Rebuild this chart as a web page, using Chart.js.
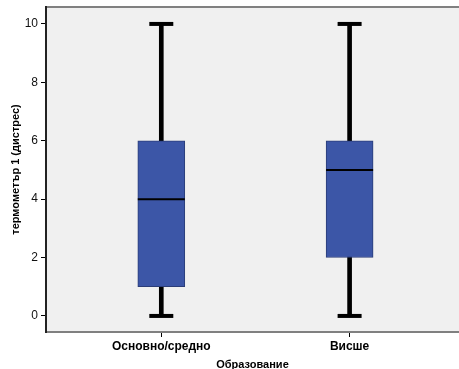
<!DOCTYPE html>
<html>
<head>
<meta charset="utf-8">
<script src="https://cdn.jsdelivr.net/npm/chart.js@4/dist/chart.umd.min.js"></script>
<style>
  html, body { margin: 0; padding: 0; background: #fff; }
  #wrap { width: 459px; height: 369px; }
</style>
</head>
<body>
<div id="wrap"><canvas id="box" width="459" height="369"></canvas></div>
<script>
// five-number summaries per education group
const categories = ['Основно/средно', 'Висше'];
const minValues = [0, 0];
const q1Values = [1, 2];
const medianValues = [4, 5];
const q3Values = [6, 6];
const maxValues = [10, 10];
const yTicks = [0, 2, 4, 6, 8, 10];

const xPos = categories.map((_, i) => i + 1);
const FONT = 'Arial, "Liberation Sans", sans-serif';

// fixed axis sizes, no extra label padding
function fixBox(s, size) {
  if (s.isHorizontal()) s.height = size; else s.width = size;
  s.paddingLeft = s.paddingRight = s.paddingTop = s.paddingBottom = 0;
}

// grey panel behind the boxes plus the top frame line
const panel = {
  id: 'panel',
  beforeDraw(chart) {
    const { ctx, chartArea: a } = chart;
    ctx.save();
    ctx.fillStyle = '#f0f0f0';
    ctx.fillRect(a.left, a.top, a.right - a.left, a.bottom - a.top);
    ctx.strokeStyle = '#808080';
    ctx.lineWidth = 2;
    ctx.beginPath();
    ctx.moveTo(a.left, a.top);
    ctx.lineTo(a.right, a.top);
    ctx.stroke();
    ctx.restore();
  }
};

new Chart(document.getElementById('box'), {
  type: 'bar',
  data: {
    datasets: [
      {
        // median line
        type: 'line',
        order: 0,
        showLine: false,
        data: xPos.map((x, i) => ({ x, y: medianValues[i] })),
        pointStyle: 'line',
        pointRadius: 23.5,
        pointBorderWidth: 2,
        borderColor: '#000',
        backgroundColor: '#000'
      },
      {
        // interquartile box
        order: 1,
        grouped: false,
        data: xPos.map((x, i) => ({ x, y: [q1Values[i], q3Values[i]] })),
        barThickness: 47,
        backgroundColor: '#3c56a7',
        borderColor: '#2b3d78',
        borderWidth: 1,
        borderSkipped: false
      },
      {
        // whisker caps
        type: 'line',
        order: 2,
        showLine: false,
        data: xPos.flatMap((x, i) => [{ x, y: minValues[i] }, { x, y: maxValues[i] }]),
        pointStyle: 'line',
        pointRadius: 12,
        pointBorderWidth: 4,
        borderColor: '#000',
        backgroundColor: '#000'
      },
      {
        // whisker stems
        order: 3,
        grouped: false,
        data: xPos.map((x, i) => ({ x, y: [minValues[i], maxValues[i]] })),
        barThickness: 4,
        backgroundColor: '#000',
        borderWidth: 0
      }
    ]
  },
  options: {
    responsive: false,
    animation: false,
    layout: { autoPadding: false, padding: { top: 7, left: 0, right: 0, bottom: 0 } },
    plugins: { legend: { display: false }, tooltip: { enabled: false } },
    scales: {
      x: {
        type: 'linear',
        min: 0.3877,
        max: 2.581,
        offset: false,
        grid: { display: true, offset: false, drawOnChartArea: false, tickLength: 5, color: '#000', lineWidth: 1 },
        border: { color: '#808080', width: 2 },
        afterBuildTicks: (s) => { s.ticks = xPos.map(v => ({ value: v })); },
        afterFit: (s) => fixBox(s, 37),
        ticks: {
          padding: 2,
          color: '#000',
          font: { family: FONT, size: 12, weight: 'bold' },
          callback: (v) => categories[v - 1]
        },
        title: {
          display: true,
          text: 'Образование',
          color: '#000',
          font: { family: FONT, size: 11, weight: 'bold', lineHeight: 1 },
          padding: { top: 0, bottom: -1 }
        }
      },
      y: {
        min: -0.55,
        max: 10.58,
        grid: { display: true, drawOnChartArea: false, tickLength: 5, color: '#000', lineWidth: 1 },
        border: { color: '#222', width: 2 },
        afterBuildTicks: (s) => { s.ticks = yTicks.map(v => ({ value: v })); },
        afterFit: (s) => fixBox(s, 46),
        ticks: {
          padding: 3,
          color: '#111',
          font: { family: FONT, size: 12 }
        },
        title: {
          display: true,
          text: 'термометър 1 (дистрес)',
          color: '#000',
          font: { family: FONT, size: 11, weight: 'bold', lineHeight: 1 },
          padding: { top: 10.5, bottom: 0 }
        }
      }
    }
  },
  plugins: [panel]
});
</script>
</body>
</html>
